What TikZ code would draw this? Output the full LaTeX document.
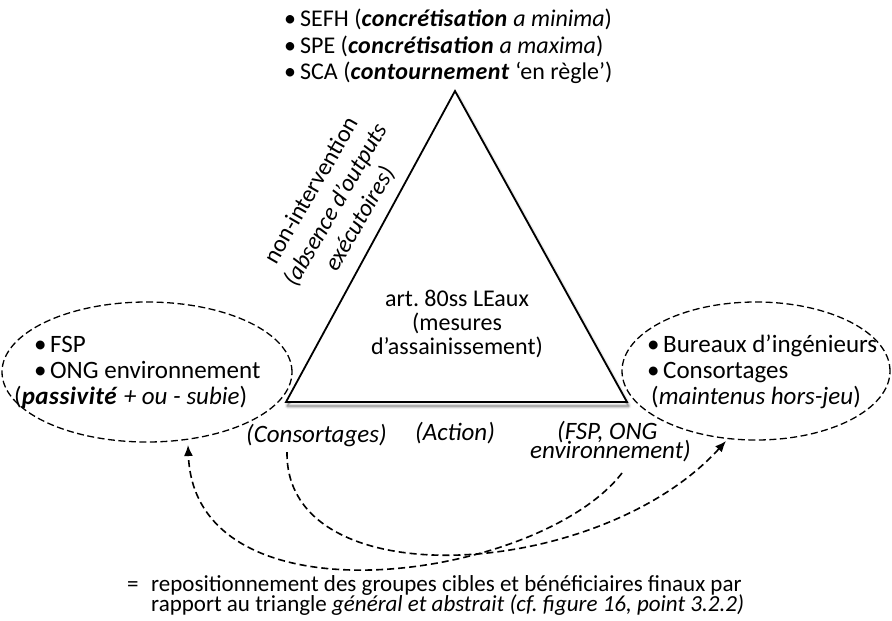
\documentclass[tikz,border=0pt]{standalone}
\usepackage{fontspec}
\setmainfont{Carlito}
\usetikzlibrary{arrows.meta,shapes.geometric}
\frenchspacing
\newcommand{\itemdot}{\makebox[16pt][l]{•}}
\newcommand{\strongit}[1]{\textbf{\textit{\addfontfeatures{LetterSpace=2}#1}}}
\begin{document}
\begin{tikzpicture}[x=1pt,y=-1pt,
  lbl/.style={inner sep=0pt, anchor=base west, font=\fontsize{24}{26}\selectfont},
  grouptxt/.style={lbl, font=\fontsize{25}{27}\selectfont},
  ilbl/.style={lbl, font=\fontsize{25}{27}\selectfont\itshape},
  legendtxt/.style={lbl, font=\fontsize{23}{21}\selectfont},
  group/.style={draw, ellipse, line width=1.3pt, dash pattern=on 7pt off 3.5pt, inner sep=0pt},
  move/.style={line width=1.6pt, dash pattern=on 7pt off 4pt, -{Latex[length=11pt,width=9pt]}},
  trigedge/.style={line width=1.8pt, line join=miter, fill=white},
]
\useasboundingbox (0,0) rectangle (892,621);

% soft shadow, offset down and to the right
\foreach \w/\o in {6/0.05,4/0.08,2.5/0.12,1.2/0.18}
  \draw[line width=\w pt, black, opacity=\o, line join=round]
    (456.5,95) -- (287.5,406) -- (628.5,406) -- cycle;

% the triangle
\coordinate (apex) at (455,91);
\coordinate (bl) at (286,402);
\coordinate (br) at (627,402);
\draw[trigedge] (apex) -- (bl) -- (br) -- cycle;

% outcomes at the apex
\node[lbl] (sefh) at (284,27) {\itemdot SEFH (\strongit{concrétisation} \textit{a minima})};
\node[lbl] (spe)  at (284,53) {\itemdot SPE (\strongit{concrétisation} \textit{a maxima})};
\node[lbl] (sca)  at (284,79) {\itemdot SCA (\strongit{contournement} ‘en règle’)};

% text along the left side
\node[inner sep=0pt, font=\fontsize{24}{28}\selectfont, align=center, rotate=60]
  (nonint) at (336,205) {non-intervention\\\textit{(absence d’outputs}\\\textit{exécutoires)}};

% text inside the triangle
\node[inner sep=0pt, font=\fontsize{24}{24}\selectfont, align=center]
  (law) at (457,324) {art. 80ss LEaux\\(mesures\\d’assainissement)};

% left group
\node[group, minimum width=290pt, minimum height=140pt] (lgroup) at (147,372) {};
\node[grouptxt] (fsp)    at (34,352) {\itemdot FSP};
\node[grouptxt] (ong)    at (34,378) {\itemdot ONG environnement};
\node[grouptxt] (passiv) at (14,404) {(\strongit{passivité} \textit{+ ou - subie})};

% right group
\node[group, minimum width=268pt, minimum height=138pt] (rgroup) at (756,371) {};
\node[grouptxt] (bureaux) at (647,352) {\itemdot Bureaux d’ingénieurs};
\node[grouptxt] (consort) at (647,378) {\itemdot Consortages};
\node[grouptxt] (maint)   at (651,404) {(\textit{maintenus hors-jeu})};

% labels under the vertices
\node[ilbl] (lconsort) at (246,442) {(Consortages)};
\node[ilbl] (action)   at (415,440) {(Action)};
\node[ilbl] (fspong)   at (557,439) {(FSP, ONG};
\node[ilbl] (envir)    at (530,458) {environnement)};

% repositioning arrows
\coordinate (cfrom) at (287,452);
\coordinate (rtip)  at (726,441);
\coordinate (ffrom) at (622,473);
\coordinate (ltip)  at (188,445);
\draw[move] (cfrom) .. controls (285,600) and (600,580) .. (rtip);
\draw[move] (ffrom) .. controls (540,580) and (195,630) .. (ltip);

% legend
\node[legendtxt] (eq) at (127,591) {=};
\node[legendtxt] (legend1) at (151,591) {repositionnement des groupes cibles et bénéficiaires finaux par};
\node[legendtxt] (legend2) at (151,611) {rapport au triangle \textit{général et abstrait (cf. figure 16, point 3.2.2)}};
\end{tikzpicture}
\end{document}
